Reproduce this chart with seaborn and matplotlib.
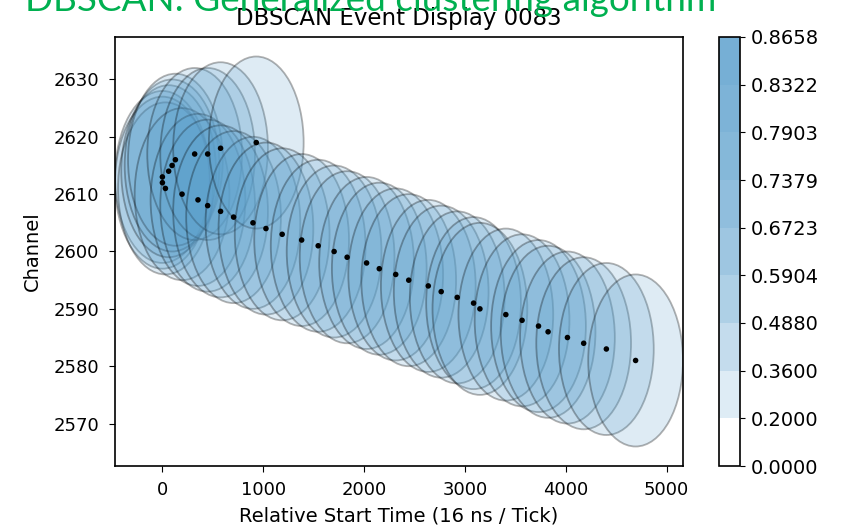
import numpy as np
import pandas as pd
import matplotlib
matplotlib.use("Agg")
import matplotlib.pyplot as plt
import seaborn as sns
from matplotlib.patches import Ellipse
from matplotlib.colors import ListedColormap, BoundaryNorm, to_rgb
import matplotlib.cm as cm

# hit positions
start_time = [0, 0, 30, 62, 96, 129, 195, 320, 353, 449, 449, 577, 577, 706, 898,
              931, 1027, 1188, 1381, 1545, 1703, 1832, 2025, 2151, 2314, 2443, 2637,
              2765, 2924, 3086, 3149, 3406, 3567, 3730, 3825, 4017, 4178, 4403, 4693]
channel = [2613, 2612, 2611, 2614, 2615, 2616, 2610, 2617, 2609, 2617, 2608, 2618,
           2607, 2606, 2605, 2619, 2604, 2603, 2602, 2601, 2600, 2599, 2598, 2597,
           2596, 2595, 2594, 2593, 2592, 2591, 2590, 2589, 2588, 2587, 2586, 2585,
           2584, 2583, 2581]

# neighbourhood size (ellipse full width / height in data units)
eps_time = 940
eps_chan = 30

# colorbar levels (overlap density)
levels = [0.0, 0.2, 0.36, 0.488, 0.5904, 0.6723, 0.7379, 0.7903, 0.8322, 0.8658]

df = pd.DataFrame({"time": start_time, "channel": channel})

sns.set_style("ticks", {"text.color": "black", "axes.labelcolor": "black",
                        "xtick.color": "black", "ytick.color": "black",
                        "axes.edgecolor": "black"})
plt.rcParams["font.family"] = ["DejaVu Sans"]

base = np.array(to_rgb("#5a9fcc"))
alpha = 0.2

fig = plt.figure(figsize=(8.44, 5.28), dpi=100)
ax = fig.add_axes([115 / 844, 62 / 528, 568 / 844, 429 / 528])

for t, c in zip(df["time"], df["channel"]):
    e = Ellipse((t, c), eps_time, eps_chan, facecolor=(*base, alpha),
                edgecolor=(0, 0, 0, 0.3), linewidth=1.3)
    ax.add_patch(e)

sns.scatterplot(data=df, x="time", y="channel", color="black", s=16,
                edgecolor="none", ax=ax, zorder=5)

ax.margins(x=0, y=0.05)
ax.autoscale_view()
ax.set_yticks([2570, 2580, 2590, 2600, 2610, 2620, 2630])
ax.set_xticks([0, 1000, 2000, 3000, 4000, 5000])
ax.tick_params(labelsize=13, length=4.5)
ax.tick_params(axis="x", pad=6)
ax.tick_params(axis="y", pad=7)
ax.set_xlabel("Relative Start Time (16 ns / Tick)", fontsize=14, labelpad=6)
ax.set_ylabel("Channel", fontsize=14, labelpad=8)
ax.set_title("DBSCAN Event Display 0083", fontsize=16.5, pad=9)
for s in ax.spines.values():
    s.set_linewidth(1.2)

# discrete colorbar showing how alpha stacks up
block_colors = [(1 - lv) * np.ones(3) + lv * base for lv in levels[:-1]]
cmap = ListedColormap(block_colors)
norm = BoundaryNorm(levels, cmap.N)
cax = fig.add_axes([719 / 844, 62 / 528, 21 / 844, 429 / 528])
cb = fig.colorbar(cm.ScalarMappable(norm=norm, cmap=cmap), cax=cax,
                  ticks=levels, format="%.4f")
cb.ax.tick_params(labelsize=14, pad=4)
cb.outline.set_linewidth(1.2)

fig.text(371 / 844, 1 - 11 / 528, "DBSCAN: Generalized clustering algorithm",
         color="#00b050", fontsize=26.6, ha="center", va="baseline",
         family=["Lato", "DejaVu Sans"])

fig.savefig("out.png", dpi=100)
